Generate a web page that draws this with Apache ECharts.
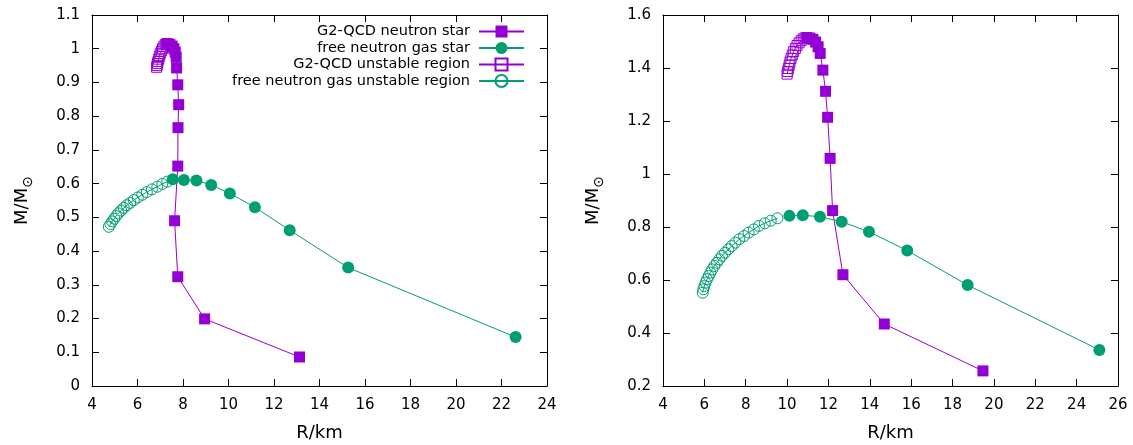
<!DOCTYPE html>
<html><head><meta charset="utf-8">
<script src="https://cdn.jsdelivr.net/npm/echarts@6/dist/echarts.min.js"></script>
<style>html,body{margin:0;padding:0;background:#fff}#c{width:1133px;height:445px}</style>
</head><body><div id="c"></div>
<script>
// ---- names ----
const seriesNames = ['G2-QCD neutron star', 'free neutron gas star', 'G2-QCD unstable region', 'free neutron gas unstable region'];
const xLabel = 'R/km';

// ---- left panel data ----
const leftQcdR = [7.32, 7.42, 7.52, 7.6, 7.66, 7.7, 7.72, 7.77, 7.81, 7.78, 7.77, 7.63, 7.77, 8.95, 13.12];
const leftQcdM = [1.015, 1.013, 1.008, 1.0, 0.99, 0.975, 0.943, 0.893, 0.834, 0.766, 0.652, 0.49, 0.324, 0.199, 0.086];
const leftGasR = [7.55, 8.04, 8.59, 9.24, 10.06, 11.16, 12.69, 15.26, 22.62];
const leftGasM = [0.613, 0.611, 0.609, 0.596, 0.571, 0.530, 0.462, 0.351, 0.145];
const leftQcdUnR = [7.28, 7.22, 7.16, 7.1, 7.05, 7.0, 6.96, 6.93, 6.9, 6.88, 6.86, 6.84];
const leftQcdUnM = [1.015, 1.012, 1.007, 1.0, 0.993, 0.985, 0.977, 0.969, 0.962, 0.956, 0.95, 0.945];
const leftGasUnR = [7.31, 7.09, 6.87, 6.63, 6.41, 6.21, 6.01, 5.84, 5.68, 5.53, 5.40, 5.28, 5.16, 5.06, 4.98, 4.89, 4.81, 4.74];
const leftGasUnM = [0.606, 0.599, 0.591, 0.583, 0.575, 0.567, 0.559, 0.551, 0.543, 0.536, 0.528, 0.520, 0.512, 0.504, 0.496, 0.488, 0.480, 0.472];

// ---- right panel data ----
const rightQcdR = [10.95, 11.1, 11.25, 11.38, 11.5, 11.6, 11.73, 11.86, 11.96, 12.08, 12.2, 12.7, 14.7, 19.47];
const rightQcdM = [1.515, 1.513, 1.508, 1.498, 1.48, 1.455, 1.392, 1.312, 1.214, 1.059, 0.862, 0.62, 0.434, 0.257];
const rightGasR = [10.11, 10.76, 11.59, 12.64, 13.96, 15.81, 18.73, 25.1];
const rightGasM = [0.842, 0.844, 0.839, 0.820, 0.782, 0.711, 0.581, 0.336];
const rightQcdUnR = [10.87, 10.78, 10.68, 10.58, 10.48, 10.4, 10.32, 10.25, 10.19, 10.14, 10.1, 10.06, 10.03, 10.0];
const rightQcdUnM = [1.513, 1.51, 1.503, 1.495, 1.485, 1.474, 1.462, 1.449, 1.436, 1.423, 1.41, 1.398, 1.387, 1.377];
const rightGasUnR = [9.53, 9.21, 8.92, 8.64, 8.39, 8.14, 7.92, 7.69, 7.50, 7.32, 7.16, 7.00, 6.85, 6.72, 6.60, 6.48, 6.38, 6.29, 6.21, 6.13, 6.06, 6.00, 5.95, 5.92];
const rightGasUnM = [0.833, 0.824, 0.814, 0.804, 0.791, 0.779, 0.766, 0.754, 0.741, 0.728, 0.716, 0.703, 0.691, 0.678, 0.665, 0.653, 0.640, 0.628, 0.615, 0.603, 0.590, 0.577, 0.565, 0.552];

// ---- axis ranges ----
const leftX = {min: 4, max: 24, interval: 2};
const leftY = {min: 0, max: 1.1, interval: 0.1};
const rightX = {min: 4, max: 26, interval: 2};
const rightY = {min: 0.2, max: 1.6, interval: 0.2};

const PURPLE = '#9400D3';
const GREEN = '#009E73';
const FONT = 'DejaVu Sans';

function zip(a, b) { return a.map((v, i) => [v, b[i]]); }

function mainX(r, grid) {
  return {
    type: 'value', gridIndex: grid, position: 'bottom', min: r.min, max: r.max, interval: r.interval,
    name: xLabel, nameLocation: 'middle', nameGap: 38,
    nameTextStyle: {fontFamily: FONT, fontSize: 18, color: '#000'},
    axisLine: {show: true, onZero: false, lineStyle: {color: '#000', width: 1}},
    axisTick: {show: true, inside: true, length: 7, lineStyle: {color: '#000'}},
    axisLabel: {fontFamily: FONT, fontSize: 15, color: '#000', margin: 12},
    splitLine: {show: false}
  };
}
function mirrorX(r, grid) {
  return {
    type: 'value', gridIndex: grid, position: 'top', min: r.min, max: r.max, interval: r.interval,
    axisLine: {show: true, onZero: false, lineStyle: {color: '#000', width: 1}},
    axisTick: {show: true, inside: true, length: 7, lineStyle: {color: '#000'}},
    axisLabel: {show: false}, splitLine: {show: false}
  };
}
function mainY(r, grid) {
  return {
    type: 'value', gridIndex: grid, position: 'left', min: r.min, max: r.max, interval: r.interval,
    name: '{m|M/M}{s|⊙}', nameLocation: 'middle', nameGap: 57,
    nameTextStyle: {
      color: '#000',
      rich: {
        m: {fontFamily: FONT, fontSize: 18, color: '#000', lineHeight: 26, verticalAlign: 'middle'},
        s: {fontFamily: FONT, fontSize: 14, color: '#000', lineHeight: 26, verticalAlign: 'bottom'}
      }
    },
    axisLine: {show: true, onZero: false, lineStyle: {color: '#000', width: 1}},
    axisTick: {show: true, inside: true, length: 7, lineStyle: {color: '#000'}},
    axisLabel: {fontFamily: FONT, fontSize: 15, color: '#000', margin: 12},
    splitLine: {show: false}
  };
}
function mirrorY(r, grid) {
  return {
    type: 'value', gridIndex: grid, position: 'right', min: r.min, max: r.max, interval: r.interval,
    axisLine: {show: true, onZero: false, lineStyle: {color: '#000', width: 1}},
    axisTick: {show: true, inside: true, length: 7, lineStyle: {color: '#000'}},
    axisLabel: {show: false}, splitLine: {show: false}
  };
}

function filled(name, data, color, sym, size, xi, yi) {
  return {
    type: 'line', name, data, xAxisIndex: xi, yAxisIndex: yi,
    symbol: sym, symbolSize: size, showSymbol: true,
    lineStyle: {color, width: 1}, itemStyle: {color},
    emphasis: {disabled: true}, z: 2
  };
}
function hollow(name, data, color, sym, size, xi, yi) {
  return {
    type: 'line', name, data, xAxisIndex: xi, yAxisIndex: yi,
    symbol: sym, symbolSize: size, showSymbol: true,
    lineStyle: {color, width: 1},
    itemStyle: {color: 'rgba(255,255,255,0)', borderColor: color, borderWidth: 1},
    emphasis: {disabled: true}, z: 3
  };
}

const chart = echarts.init(document.getElementById('c'), null, {renderer: 'canvas'});
chart.setOption({
  animation: false,
  backgroundColor: '#fff',
  grid: [
    {left: 92, right: 586, top: 15, bottom: 59, containLabel: false, outerBoundsMode: 'none'},
    {left: 663, right: 15, top: 15, bottom: 59, containLabel: false, outerBoundsMode: 'none'}
  ],
  xAxis: [mainX(leftX, 0), mirrorX(leftX, 0), mainX(rightX, 1), mirrorX(rightX, 1)],
  yAxis: [mainY(leftY, 0), mirrorY(leftY, 0), mainY(rightY, 1), mirrorY(rightY, 1)],
  legend: {
    data: seriesNames,
    orient: 'vertical', align: 'right',
    right: 608, top: 24, padding: 0,
    itemWidth: 45, itemHeight: 15, itemGap: 1.5,
    selectedMode: false,
    formatter: '{t|{name}}',
    textStyle: {
      fontFamily: FONT, fontSize: 14.5, color: '#000',
      rich: {t: {fontFamily: FONT, fontSize: 14.5, color: '#000', lineHeight: 15, width: 248, align: 'right', padding: [0, 4, 0, 0]}}
    }
  },
  series: [
    filled(seriesNames[0], zip(leftQcdR, leftQcdM), PURPLE, 'rect', 11, 0, 0),
    filled(seriesNames[1], zip(leftGasR, leftGasM), GREEN, 'circle', 12, 0, 0),
    hollow(seriesNames[2], zip(leftQcdUnR, leftQcdUnM), PURPLE, 'rect', 10, 0, 0),
    hollow(seriesNames[3], zip(leftGasUnR, leftGasUnM), GREEN, 'circle', 11, 0, 0),
    filled(seriesNames[0], zip(rightQcdR, rightQcdM), PURPLE, 'rect', 11, 2, 2),
    filled(seriesNames[1], zip(rightGasR, rightGasM), GREEN, 'circle', 12, 2, 2),
    hollow(seriesNames[2], zip(rightQcdUnR, rightQcdUnM), PURPLE, 'rect', 10, 2, 2),
    hollow(seriesNames[3], zip(rightGasUnR, rightGasUnM), GREEN, 'circle', 11, 2, 2)
  ]
});
</script>
</body></html>
